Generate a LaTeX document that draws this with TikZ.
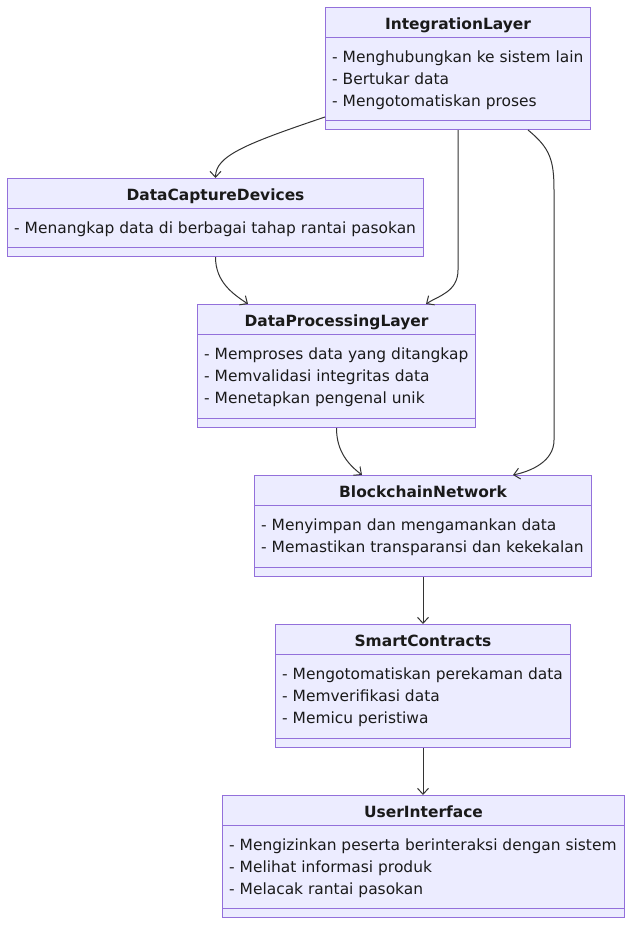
\documentclass[tikz,border=0pt]{standalone}
\usepackage{fontspec}
\setmainfont{DejaVu Sans}
\usetikzlibrary{calc,arrows.meta}
\definecolor{boxfill}{HTML}{ECECFF}
\definecolor{boxdraw}{HTML}{9370DB}
\definecolor{txt}{HTML}{1A1A1A}
\definecolor{edge}{HTML}{333333}
\tikzset{
  classbox/.style={draw=boxdraw, fill=boxfill, line width=1pt, anchor=north west, inner sep=0pt},
  divider/.style={draw=boxdraw, line width=1pt},
  ctitle/.style={font=\fontsize{15.45}{18}\selectfont\bfseries, text=txt, anchor=base, inner sep=0pt},
  citem/.style={font=\fontsize{15.45}{18}\selectfont, text=txt, anchor=base west, inner sep=0pt},
  conn/.style={draw=edge, line width=1pt, -{Straight Barb[length=6pt,width=11pt]}},
}
\begin{document}
\begin{tikzpicture}[x=1pt,y=-1pt]
\useasboundingbox (0,0) rectangle (640,937);
% IntegrationLayer
\node[classbox, minimum width=265, minimum height=122] (il) at (325,7) {};
\draw[divider] ($(il.north west)+(0,30)$) -- ($(il.north east)+(0,30)$);
\draw[divider] ($(il.south west)+(0,-10)$) -- ($(il.south east)+(0,-10)$);
\node[ctitle] (ilt) at ($(il.north)+(0,22)$) {IntegrationLayer};
\node[citem] (il1) at ($(il.north west)+(7,55)$) {- Menghubungkan ke sistem lain};
\node[citem] (il2) at ($(il.north west)+(7,77)$) {- Bertukar data};
\node[citem] (il3) at ($(il.north west)+(7,99)$) {- Mengotomatiskan proses};
% DataCaptureDevices
\node[classbox, minimum width=416, minimum height=78] (dcd) at (7,178) {};
\draw[divider] ($(dcd.north west)+(0,30)$) -- ($(dcd.north east)+(0,30)$);
\draw[divider] ($(dcd.south west)+(0,-10)$) -- ($(dcd.south east)+(0,-10)$);
\node[ctitle] (dcdt) at ($(dcd.north)+(0,22)$) {DataCaptureDevices};
\node[citem] (dcd1) at ($(dcd.north west)+(7,55)$) {- Menangkap data di berbagai tahap rantai pasokan};
% DataProcessingLayer
\node[classbox, minimum width=278, minimum height=123] (dpl) at (197,304) {};
\draw[divider] ($(dpl.north west)+(0,30)$) -- ($(dpl.north east)+(0,30)$);
\draw[divider] ($(dpl.south west)+(0,-10)$) -- ($(dpl.south east)+(0,-10)$);
\node[ctitle] (dplt) at ($(dpl.north)+(0,22)$) {DataProcessingLayer};
\node[citem] (dpl1) at ($(dpl.north west)+(7,55)$) {- Memproses data yang ditangkap};
\node[citem] (dpl2) at ($(dpl.north west)+(7,77)$) {- Memvalidasi integritas data};
\node[citem] (dpl3) at ($(dpl.north west)+(7,99)$) {- Menetapkan pengenal unik};
% BlockchainNetwork
\node[classbox, minimum width=337, minimum height=101] (bn) at (254,475) {};
\draw[divider] ($(bn.north west)+(0,30)$) -- ($(bn.north east)+(0,30)$);
\draw[divider] ($(bn.south west)+(0,-10)$) -- ($(bn.south east)+(0,-10)$);
\node[ctitle] (bnt) at ($(bn.north)+(0,22)$) {BlockchainNetwork};
\node[citem] (bn1) at ($(bn.north west)+(7,55)$) {- Menyimpan dan mengamankan data};
\node[citem] (bn2) at ($(bn.north west)+(7,77)$) {- Memastikan transparansi dan kekekalan};
% SmartContracts
\node[classbox, minimum width=295, minimum height=123] (sc) at (275,624) {};
\draw[divider] ($(sc.north west)+(0,30)$) -- ($(sc.north east)+(0,30)$);
\draw[divider] ($(sc.south west)+(0,-10)$) -- ($(sc.south east)+(0,-10)$);
\node[ctitle] (sct) at ($(sc.north)+(0,22)$) {SmartContracts};
\node[citem] (sc1) at ($(sc.north west)+(7,55)$) {- Mengotomatiskan perekaman data};
\node[citem] (sc2) at ($(sc.north west)+(7,77)$) {- Memverifikasi data};
\node[citem] (sc3) at ($(sc.north west)+(7,99)$) {- Memicu peristiwa};
% UserInterface
\node[classbox, minimum width=402, minimum height=122] (ui) at (222,795) {};
\draw[divider] ($(ui.north west)+(0,30)$) -- ($(ui.north east)+(0,30)$);
\draw[divider] ($(ui.south west)+(0,-10)$) -- ($(ui.south east)+(0,-10)$);
\node[ctitle] (uit) at ($(ui.north)+(0,22)$) {UserInterface};
\node[citem] (ui1) at ($(ui.north west)+(7,55)$) {- Mengizinkan peserta berinteraksi dengan sistem};
\node[citem] (ui2) at ($(ui.north west)+(7,77)$) {- Melihat informasi produk};
\node[citem] (ui3) at ($(ui.north west)+(7,99)$) {- Melacak rantai pasokan};
% connectors
\draw[conn] ($(il.south west)+(0,-13)$) .. controls ($(il.south west)+(-80,14)$) and ($(dcd.north)+(0,-22)$) .. (dcd.north);
\draw[conn] (il.south) -- ($(il.south)+(0,140)$) .. controls ($(il.south)+(0,162)$) and ($(dpl.north east)+(-38,-8)$) .. ($(dpl.north east)+(-50,0)$);
\draw[conn] ($(il.south)+(70,0)$) .. controls ($(il.south)+(92,18)$) and ($(il.south)+(96,30)$) .. ($(il.south)+(96,60)$) -- ($(bn.north east)+(-38,-35)$) .. controls ($(bn.north east)+(-38,-14)$) and ($(bn.north east)+(-60,-4)$) .. ($(bn.north east)+(-79,0)$);
\draw[conn] (dcd.south) .. controls ($(dcd.south)+(0,25)$) and ($(dpl.north west)+(36,-10)$) .. ($(dpl.north west)+(51,0)$);
\draw[conn] (dpl.south) .. controls ($(dpl.south)+(0,24)$) and ($(bn.north west)+(95,-10)$) .. ($(bn.north west)+(108,0)$);
\draw[conn] (bn.south -| sc.north) -- (sc.north);
\draw[conn] (sc.south) -- (sc.south |- ui.north);
\end{tikzpicture}
\end{document}
